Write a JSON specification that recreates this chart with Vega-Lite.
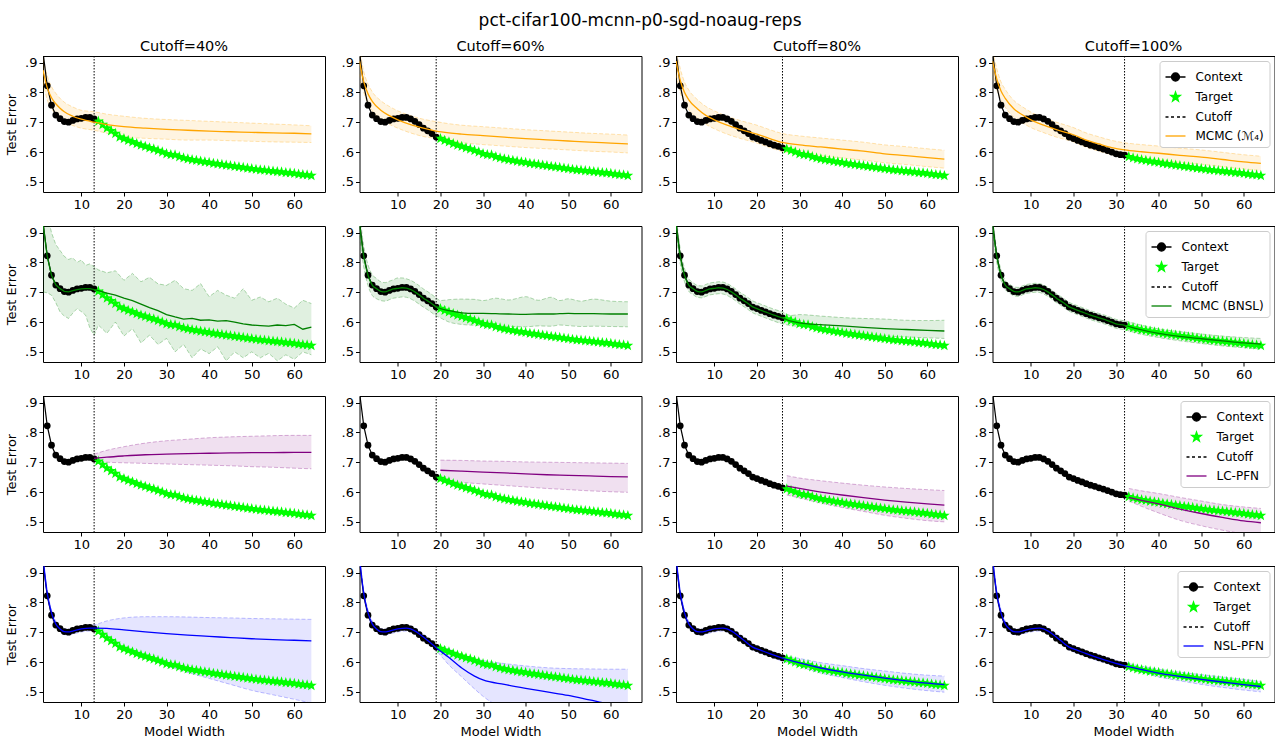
{
"$schema":"https://vega.github.io/schema/vega-lite/v6.json",
"padding":{"left":5,"top":11,"right":0,"bottom":0},
"title":{"text":"pct-cifar100-mcnn-p0-sgd-noaug-reps","fontSize":17,"offset":9},
"config":{
 "font":"DejaVu Sans",
 "view":{"stroke":"black","strokeWidth":1},
 "axis":{"grid":false,"domain":false,"tickColor":"black","tickSize":4,"labelFont":"DejaVu Sans","labelFontSize":13,"labelColor":"black","labelOverlap":false,"titleFont":"DejaVu Sans","titleFontSize":13,"titleFontWeight":"normal","titleColor":"black","labelPadding":2},
 "axisY":{"titlePadding":6,"labelOverlap":false},
 "title":{"font":"DejaVu Sans","fontSize":14.5,"fontWeight":"normal","color":"black","anchor":"middle","offset":1},
 "legend":{"labelFont":"DejaVu Sans","labelFontSize":12,"labelColor":"black","symbolSize":400,"symbolStrokeWidth":1.3,"strokeColor":"#cccccc","fillColor":"white","padding":5,"cornerRadius":3,"offset":5,"rowPadding":2,"labelOffset":9}
},
"datasets":{
"curve":[
{"x":1,"y":0.935},{"x":2,"y":0.822},{"x":3,"y":0.757},{"x":4,"y":0.724},{"x":5,"y":0.712},{"x":6,"y":0.702},{"x":7,"y":0.700},{"x":8,"y":0.706},{"x":9,"y":0.711},{"x":10,"y":0.713},{"x":11,"y":0.716},{"x":12,"y":0.716},{"x":13,"y":0.711},{"x":14,"y":0.703},{"x":15,"y":0.692},{"x":16,"y":0.680},{"x":17,"y":0.671},{"x":18,"y":0.662},{"x":19,"y":0.650},{"x":20,"y":0.645},{"x":21,"y":0.639},{"x":22,"y":0.634},{"x":23,"y":0.628},{"x":24,"y":0.623},{"x":25,"y":0.619},{"x":26,"y":0.614},{"x":27,"y":0.610},{"x":28,"y":0.605},{"x":29,"y":0.600},{"x":30,"y":0.594},{"x":31,"y":0.591},{"x":32,"y":0.590},{"x":33,"y":0.584},{"x":34,"y":0.580},{"x":35,"y":0.577},{"x":36,"y":0.574},{"x":37,"y":0.572},{"x":38,"y":0.569},{"x":39,"y":0.567},{"x":40,"y":0.565},{"x":41,"y":0.562},{"x":42,"y":0.560},{"x":43,"y":0.558},{"x":44,"y":0.556},{"x":45,"y":0.554},{"x":46,"y":0.552},{"x":47,"y":0.550},{"x":48,"y":0.548},{"x":49,"y":0.546},{"x":50,"y":0.544},{"x":51,"y":0.542},{"x":52,"y":0.540},{"x":53,"y":0.539},{"x":54,"y":0.537},{"x":55,"y":0.536},{"x":56,"y":0.534},{"x":57,"y":0.533},{"x":58,"y":0.531},{"x":59,"y":0.530},{"x":60,"y":0.528},{"x":61,"y":0.526},{"x":62,"y":0.524},{"x":63,"y":0.523},{"x":64,"y":0.521}
],
"pred":[
{"m":"A","c":40,"x":1,"y":0.875,"lo":0.835,"hi":0.915},{"m":"A","c":40,"x":2,"y":0.815,"lo":0.775,"hi":0.855},{"m":"A","c":40,"x":3,"y":0.782,"lo":0.745,"hi":0.819},{"m":"A","c":40,"x":4,"y":0.762,"lo":0.727,"hi":0.797},{"m":"A","c":40,"x":5,"y":0.747,"lo":0.714,"hi":0.78},{"m":"A","c":40,"x":6,"y":0.735,"lo":0.703,"hi":0.767},{"m":"A","c":40,"x":8,"y":0.72,"lo":0.689,"hi":0.751},{"m":"A","c":40,"x":10,"y":0.71,"lo":0.68,"hi":0.74},{"m":"A","c":40,"x":13,"y":0.7,"lo":0.673,"hi":0.735},{"m":"A","c":40,"x":16,"y":0.692,"lo":0.663,"hi":0.727},{"m":"A","c":40,"x":20,"y":0.685,"lo":0.65,"hi":0.72},{"m":"A","c":40,"x":25,"y":0.68,"lo":0.646,"hi":0.713},{"m":"A","c":40,"x":30,"y":0.676,"lo":0.643,"hi":0.709},{"m":"A","c":40,"x":35,"y":0.673,"lo":0.64,"hi":0.706},{"m":"A","c":40,"x":40,"y":0.67,"lo":0.64,"hi":0.703},{"m":"A","c":40,"x":45,"y":0.668,"lo":0.638,"hi":0.7},{"m":"A","c":40,"x":50,"y":0.666,"lo":0.636,"hi":0.697},{"m":"A","c":40,"x":55,"y":0.664,"lo":0.634,"hi":0.694},{"m":"A","c":40,"x":60,"y":0.663,"lo":0.633,"hi":0.691},{"m":"A","c":40,"x":64,"y":0.661,"lo":0.632,"hi":0.688},
{"m":"A","c":60,"x":1,"y":0.905,"lo":0.86,"hi":0.95},{"m":"A","c":60,"x":2,"y":0.835,"lo":0.8,"hi":0.87},{"m":"A","c":60,"x":3,"y":0.795,"lo":0.762,"hi":0.828},{"m":"A","c":60,"x":4,"y":0.77,"lo":0.738,"hi":0.802},{"m":"A","c":60,"x":6,"y":0.74,"lo":0.71,"hi":0.772},{"m":"A","c":60,"x":8,"y":0.722,"lo":0.693,"hi":0.753},{"m":"A","c":60,"x":10,"y":0.708,"lo":0.68,"hi":0.738},{"m":"A","c":60,"x":13,"y":0.692,"lo":0.664,"hi":0.722},{"m":"A","c":60,"x":16,"y":0.68,"lo":0.652,"hi":0.71},{"m":"A","c":60,"x":19,"y":0.67,"lo":0.645,"hi":0.702},{"m":"A","c":60,"x":22,"y":0.664,"lo":0.637,"hi":0.695},{"m":"A","c":60,"x":25,"y":0.66,"lo":0.631,"hi":0.69},{"m":"A","c":60,"x":30,"y":0.655,"lo":0.625,"hi":0.685},{"m":"A","c":60,"x":35,"y":0.65,"lo":0.62,"hi":0.68},{"m":"A","c":60,"x":40,"y":0.645,"lo":0.615,"hi":0.675},{"m":"A","c":60,"x":45,"y":0.641,"lo":0.611,"hi":0.671},{"m":"A","c":60,"x":50,"y":0.637,"lo":0.607,"hi":0.667},{"m":"A","c":60,"x":55,"y":0.633,"lo":0.603,"hi":0.663},{"m":"A","c":60,"x":60,"y":0.63,"lo":0.6,"hi":0.66},{"m":"A","c":60,"x":64,"y":0.627,"lo":0.597,"hi":0.657},
{"m":"A","c":80,"x":1,"y":0.905,"lo":0.86,"hi":0.95},{"m":"A","c":80,"x":2,"y":0.84,"lo":0.8,"hi":0.88},{"m":"A","c":80,"x":3,"y":0.8,"lo":0.765,"hi":0.835},{"m":"A","c":80,"x":4,"y":0.775,"lo":0.742,"hi":0.808},{"m":"A","c":80,"x":6,"y":0.745,"lo":0.714,"hi":0.776},{"m":"A","c":80,"x":8,"y":0.723,"lo":0.693,"hi":0.753},{"m":"A","c":80,"x":10,"y":0.708,"lo":0.678,"hi":0.738},{"m":"A","c":80,"x":13,"y":0.69,"lo":0.66,"hi":0.72},{"m":"A","c":80,"x":16,"y":0.676,"lo":0.646,"hi":0.706},{"m":"A","c":80,"x":20,"y":0.66,"lo":0.63,"hi":0.69},{"m":"A","c":80,"x":23,"y":0.645,"lo":0.615,"hi":0.675},{"m":"A","c":80,"x":26,"y":0.632,"lo":0.602,"hi":0.662},{"m":"A","c":80,"x":30,"y":0.624,"lo":0.594,"hi":0.654},{"m":"A","c":80,"x":35,"y":0.617,"lo":0.587,"hi":0.647},{"m":"A","c":80,"x":40,"y":0.61,"lo":0.58,"hi":0.64},{"m":"A","c":80,"x":45,"y":0.603,"lo":0.573,"hi":0.633},{"m":"A","c":80,"x":50,"y":0.594,"lo":0.564,"hi":0.624},{"m":"A","c":80,"x":55,"y":0.588,"lo":0.558,"hi":0.618},{"m":"A","c":80,"x":60,"y":0.581,"lo":0.551,"hi":0.611},{"m":"A","c":80,"x":64,"y":0.576,"lo":0.546,"hi":0.606},
{"m":"A","c":100,"x":1,"y":0.905,"lo":0.87,"hi":0.94},{"m":"A","c":100,"x":2,"y":0.845,"lo":0.81,"hi":0.88},{"m":"A","c":100,"x":3,"y":0.805,"lo":0.775,"hi":0.835},{"m":"A","c":100,"x":4,"y":0.78,"lo":0.75,"hi":0.81},{"m":"A","c":100,"x":6,"y":0.745,"lo":0.717,"hi":0.773},{"m":"A","c":100,"x":8,"y":0.725,"lo":0.698,"hi":0.752},{"m":"A","c":100,"x":10,"y":0.708,"lo":0.682,"hi":0.734},{"m":"A","c":100,"x":13,"y":0.69,"lo":0.665,"hi":0.715},{"m":"A","c":100,"x":16,"y":0.675,"lo":0.65,"hi":0.7},{"m":"A","c":100,"x":20,"y":0.658,"lo":0.634,"hi":0.682},{"m":"A","c":100,"x":23,"y":0.64,"lo":0.616,"hi":0.664},{"m":"A","c":100,"x":26,"y":0.627,"lo":0.603,"hi":0.651},{"m":"A","c":100,"x":29,"y":0.615,"lo":0.591,"hi":0.639},{"m":"A","c":100,"x":32,"y":0.607,"lo":0.583,"hi":0.631},{"m":"A","c":100,"x":36,"y":0.601,"lo":0.577,"hi":0.625},{"m":"A","c":100,"x":40,"y":0.596,"lo":0.572,"hi":0.62},{"m":"A","c":100,"x":45,"y":0.589,"lo":0.565,"hi":0.613},{"m":"A","c":100,"x":50,"y":0.583,"lo":0.559,"hi":0.607},{"m":"A","c":100,"x":55,"y":0.575,"lo":0.551,"hi":0.599},{"m":"A","c":100,"x":60,"y":0.567,"lo":0.543,"hi":0.591},{"m":"A","c":100,"x":64,"y":0.562,"lo":0.538,"hi":0.586},
{"m":"B","c":40,"x":1,"y":0.93,"lo":0.701,"hi":0.99},{"m":"B","c":40,"x":2,"y":0.82,"lo":0.698,"hi":0.96},{"m":"B","c":40,"x":3,"y":0.757,"lo":0.69,"hi":0.9},{"m":"B","c":40,"x":4,"y":0.725,"lo":0.665,"hi":0.86},{"m":"B","c":40,"x":5,"y":0.712,"lo":0.634,"hi":0.84},{"m":"B","c":40,"x":6,"y":0.703,"lo":0.62,"hi":0.82},{"m":"B","c":40,"x":7,"y":0.701,"lo":0.612,"hi":0.81},{"m":"B","c":40,"x":8,"y":0.705,"lo":0.63,"hi":0.815},{"m":"B","c":40,"x":9,"y":0.709,"lo":0.645,"hi":0.8},{"m":"B","c":40,"x":10,"y":0.711,"lo":0.635,"hi":0.808},{"m":"B","c":40,"x":11,"y":0.712,"lo":0.623,"hi":0.79},{"m":"B","c":40,"x":12,"y":0.712,"lo":0.58,"hi":0.795},{"m":"B","c":40,"x":13,"y":0.709,"lo":0.556,"hi":0.785},{"m":"B","c":40,"x":14,"y":0.705,"lo":0.59,"hi":0.775},{"m":"B","c":40,"x":16,"y":0.697,"lo":0.562,"hi":0.765},{"m":"B","c":40,"x":18,"y":0.69,"lo":0.6,"hi":0.772},{"m":"B","c":40,"x":20,"y":0.68,"lo":0.553,"hi":0.74},{"m":"B","c":40,"x":22,"y":0.672,"lo":0.578,"hi":0.763},{"m":"B","c":40,"x":24,"y":0.66,"lo":0.53,"hi":0.735},{"m":"B","c":40,"x":26,"y":0.648,"lo":0.556,"hi":0.75},{"m":"B","c":40,"x":28,"y":0.638,"lo":0.525,"hi":0.728},{"m":"B","c":40,"x":30,"y":0.625,"lo":0.545,"hi":0.723},{"m":"B","c":40,"x":32,"y":0.617,"lo":0.5,"hi":0.74},{"m":"B","c":40,"x":34,"y":0.61,"lo":0.525,"hi":0.712},{"m":"B","c":40,"x":36,"y":0.612,"lo":0.48,"hi":0.706},{"m":"B","c":40,"x":38,"y":0.606,"lo":0.51,"hi":0.729},{"m":"B","c":40,"x":40,"y":0.607,"lo":0.494,"hi":0.685},{"m":"B","c":40,"x":42,"y":0.603,"lo":0.517,"hi":0.706},{"m":"B","c":40,"x":44,"y":0.605,"lo":0.47,"hi":0.69},{"m":"B","c":40,"x":46,"y":0.6,"lo":0.5,"hi":0.68},{"m":"B","c":40,"x":48,"y":0.594,"lo":0.48,"hi":0.712},{"m":"B","c":40,"x":50,"y":0.59,"lo":0.5,"hi":0.673},{"m":"B","c":40,"x":52,"y":0.588,"lo":0.48,"hi":0.684},{"m":"B","c":40,"x":54,"y":0.586,"lo":0.495,"hi":0.668},{"m":"B","c":40,"x":56,"y":0.59,"lo":0.47,"hi":0.68},{"m":"B","c":40,"x":58,"y":0.588,"lo":0.49,"hi":0.66},{"m":"B","c":40,"x":60,"y":0.592,"lo":0.475,"hi":0.647},{"m":"B","c":40,"x":62,"y":0.576,"lo":0.5,"hi":0.673},{"m":"B","c":40,"x":64,"y":0.583,"lo":0.49,"hi":0.662},
{"m":"B","c":60,"x":1,"y":0.93,"lo":0.89,"hi":0.97},{"m":"B","c":60,"x":2,"y":0.82,"lo":0.785,"hi":0.855},{"m":"B","c":60,"x":3,"y":0.757,"lo":0.722,"hi":0.792},{"m":"B","c":60,"x":4,"y":0.724,"lo":0.689,"hi":0.759},{"m":"B","c":60,"x":5,"y":0.712,"lo":0.678,"hi":0.746},{"m":"B","c":60,"x":6,"y":0.703,"lo":0.672,"hi":0.735},{"m":"B","c":60,"x":7,"y":0.701,"lo":0.67,"hi":0.732},{"m":"B","c":60,"x":8,"y":0.706,"lo":0.675,"hi":0.737},{"m":"B","c":60,"x":9,"y":0.711,"lo":0.68,"hi":0.742},{"m":"B","c":60,"x":10,"y":0.713,"lo":0.682,"hi":0.748},{"m":"B","c":60,"x":11,"y":0.715,"lo":0.684,"hi":0.748},{"m":"B","c":60,"x":12,"y":0.714,"lo":0.683,"hi":0.745},{"m":"B","c":60,"x":13,"y":0.709,"lo":0.678,"hi":0.74},{"m":"B","c":60,"x":14,"y":0.701,"lo":0.67,"hi":0.732},{"m":"B","c":60,"x":15,"y":0.691,"lo":0.66,"hi":0.722},{"m":"B","c":60,"x":16,"y":0.68,"lo":0.65,"hi":0.711},{"m":"B","c":60,"x":17,"y":0.671,"lo":0.641,"hi":0.702},{"m":"B","c":60,"x":18,"y":0.661,"lo":0.631,"hi":0.692},{"m":"B","c":60,"x":19,"y":0.651,"lo":0.621,"hi":0.681},{"m":"B","c":60,"x":20,"y":0.645,"lo":0.614,"hi":0.672},{"m":"B","c":60,"x":22,"y":0.638,"lo":0.6,"hi":0.675},{"m":"B","c":60,"x":25,"y":0.631,"lo":0.592,"hi":0.677},{"m":"B","c":60,"x":28,"y":0.629,"lo":0.589,"hi":0.676},{"m":"B","c":60,"x":30,"y":0.629,"lo":0.588,"hi":0.672},{"m":"B","c":60,"x":33,"y":0.628,"lo":0.586,"hi":0.68},{"m":"B","c":60,"x":36,"y":0.627,"lo":0.585,"hi":0.674},{"m":"B","c":60,"x":40,"y":0.626,"lo":0.584,"hi":0.685},{"m":"B","c":60,"x":43,"y":0.627,"lo":0.587,"hi":0.673},{"m":"B","c":60,"x":46,"y":0.627,"lo":0.586,"hi":0.683},{"m":"B","c":60,"x":48,"y":0.628,"lo":0.59,"hi":0.672},{"m":"B","c":60,"x":50,"y":0.629,"lo":0.588,"hi":0.678},{"m":"B","c":60,"x":53,"y":0.628,"lo":0.585,"hi":0.67},{"m":"B","c":60,"x":56,"y":0.628,"lo":0.586,"hi":0.677},{"m":"B","c":60,"x":60,"y":0.627,"lo":0.585,"hi":0.67},{"m":"B","c":60,"x":64,"y":0.627,"lo":0.584,"hi":0.668},
{"m":"B","c":80,"x":1,"y":0.93,"lo":0.9,"hi":0.96},{"m":"B","c":80,"x":2,"y":0.82,"lo":0.795,"hi":0.845},{"m":"B","c":80,"x":3,"y":0.757,"lo":0.735,"hi":0.78},{"m":"B","c":80,"x":4,"y":0.724,"lo":0.703,"hi":0.745},{"m":"B","c":80,"x":5,"y":0.712,"lo":0.692,"hi":0.732},{"m":"B","c":80,"x":6,"y":0.703,"lo":0.683,"hi":0.723},{"m":"B","c":80,"x":7,"y":0.701,"lo":0.681,"hi":0.721},{"m":"B","c":80,"x":8,"y":0.706,"lo":0.686,"hi":0.726},{"m":"B","c":80,"x":9,"y":0.711,"lo":0.691,"hi":0.731},{"m":"B","c":80,"x":10,"y":0.713,"lo":0.693,"hi":0.733},{"m":"B","c":80,"x":11,"y":0.715,"lo":0.695,"hi":0.735},{"m":"B","c":80,"x":12,"y":0.714,"lo":0.694,"hi":0.734},{"m":"B","c":80,"x":13,"y":0.709,"lo":0.689,"hi":0.729},{"m":"B","c":80,"x":14,"y":0.701,"lo":0.681,"hi":0.721},{"m":"B","c":80,"x":15,"y":0.691,"lo":0.671,"hi":0.711},{"m":"B","c":80,"x":16,"y":0.68,"lo":0.66,"hi":0.7},{"m":"B","c":80,"x":17,"y":0.671,"lo":0.651,"hi":0.691},{"m":"B","c":80,"x":18,"y":0.661,"lo":0.641,"hi":0.681},{"m":"B","c":80,"x":19,"y":0.651,"lo":0.631,"hi":0.671},{"m":"B","c":80,"x":20,"y":0.645,"lo":0.625,"hi":0.665},{"m":"B","c":80,"x":22,"y":0.634,"lo":0.614,"hi":0.654},{"m":"B","c":80,"x":24,"y":0.623,"lo":0.603,"hi":0.643},{"m":"B","c":80,"x":26,"y":0.614,"lo":0.594,"hi":0.634},{"m":"B","c":80,"x":28,"y":0.603,"lo":0.588,"hi":0.622},{"m":"B","c":80,"x":30,"y":0.597,"lo":0.585,"hi":0.625},{"m":"B","c":80,"x":35,"y":0.591,"lo":0.575,"hi":0.62},{"m":"B","c":80,"x":40,"y":0.587,"lo":0.567,"hi":0.615},{"m":"B","c":80,"x":45,"y":0.582,"lo":0.56,"hi":0.612},{"m":"B","c":80,"x":50,"y":0.578,"lo":0.553,"hi":0.61},{"m":"B","c":80,"x":55,"y":0.575,"lo":0.55,"hi":0.606},{"m":"B","c":80,"x":60,"y":0.572,"lo":0.547,"hi":0.605},{"m":"B","c":80,"x":64,"y":0.57,"lo":0.545,"hi":0.606},
{"m":"B","c":100,"x":1,"y":0.93,"lo":0.905,"hi":0.955},{"m":"B","c":100,"x":2,"y":0.82,"lo":0.8,"hi":0.84},{"m":"B","c":100,"x":3,"y":0.757,"lo":0.74,"hi":0.775},{"m":"B","c":100,"x":4,"y":0.724,"lo":0.709,"hi":0.739},{"m":"B","c":100,"x":5,"y":0.712,"lo":0.697,"hi":0.727},{"m":"B","c":100,"x":6,"y":0.703,"lo":0.688,"hi":0.718},{"m":"B","c":100,"x":7,"y":0.701,"lo":0.686,"hi":0.716},{"m":"B","c":100,"x":8,"y":0.706,"lo":0.691,"hi":0.721},{"m":"B","c":100,"x":9,"y":0.711,"lo":0.696,"hi":0.726},{"m":"B","c":100,"x":10,"y":0.713,"lo":0.698,"hi":0.728},{"m":"B","c":100,"x":11,"y":0.715,"lo":0.7,"hi":0.73},{"m":"B","c":100,"x":12,"y":0.714,"lo":0.699,"hi":0.729},{"m":"B","c":100,"x":13,"y":0.709,"lo":0.694,"hi":0.724},{"m":"B","c":100,"x":14,"y":0.701,"lo":0.686,"hi":0.716},{"m":"B","c":100,"x":15,"y":0.691,"lo":0.676,"hi":0.706},{"m":"B","c":100,"x":16,"y":0.68,"lo":0.665,"hi":0.695},{"m":"B","c":100,"x":17,"y":0.671,"lo":0.656,"hi":0.686},{"m":"B","c":100,"x":18,"y":0.661,"lo":0.646,"hi":0.676},{"m":"B","c":100,"x":19,"y":0.651,"lo":0.636,"hi":0.666},{"m":"B","c":100,"x":20,"y":0.645,"lo":0.63,"hi":0.66},{"m":"B","c":100,"x":22,"y":0.634,"lo":0.619,"hi":0.649},{"m":"B","c":100,"x":24,"y":0.623,"lo":0.608,"hi":0.638},{"m":"B","c":100,"x":26,"y":0.614,"lo":0.599,"hi":0.629},{"m":"B","c":100,"x":28,"y":0.605,"lo":0.59,"hi":0.62},{"m":"B","c":100,"x":30,"y":0.594,"lo":0.579,"hi":0.609},{"m":"B","c":100,"x":32,"y":0.589,"lo":0.574,"hi":0.604},{"m":"B","c":100,"x":35,"y":0.577,"lo":0.562,"hi":0.593},{"m":"B","c":100,"x":40,"y":0.562,"lo":0.548,"hi":0.577},{"m":"B","c":100,"x":45,"y":0.552,"lo":0.537,"hi":0.568},{"m":"B","c":100,"x":50,"y":0.544,"lo":0.528,"hi":0.56},{"m":"B","c":100,"x":55,"y":0.537,"lo":0.52,"hi":0.553},{"m":"B","c":100,"x":60,"y":0.53,"lo":0.514,"hi":0.548},{"m":"B","c":100,"x":64,"y":0.526,"lo":0.51,"hi":0.545},
{"m":"L","c":40,"x":13,"y":0.713,"lo":0.703,"hi":0.727},{"m":"L","c":40,"x":16,"y":0.717,"lo":0.7,"hi":0.74},{"m":"L","c":40,"x":20,"y":0.721,"lo":0.698,"hi":0.752},{"m":"L","c":40,"x":25,"y":0.725,"lo":0.696,"hi":0.764},{"m":"L","c":40,"x":30,"y":0.727,"lo":0.694,"hi":0.772},{"m":"L","c":40,"x":35,"y":0.729,"lo":0.692,"hi":0.777},{"m":"L","c":40,"x":40,"y":0.73,"lo":0.69,"hi":0.782},{"m":"L","c":40,"x":45,"y":0.731,"lo":0.688,"hi":0.785},{"m":"L","c":40,"x":50,"y":0.732,"lo":0.685,"hi":0.787},{"m":"L","c":40,"x":55,"y":0.732,"lo":0.683,"hi":0.789},{"m":"L","c":40,"x":60,"y":0.733,"lo":0.68,"hi":0.79},{"m":"L","c":40,"x":64,"y":0.733,"lo":0.678,"hi":0.79},
{"m":"L","c":60,"x":20,"y":0.673,"lo":0.636,"hi":0.707},{"m":"L","c":60,"x":25,"y":0.67,"lo":0.632,"hi":0.706},{"m":"L","c":60,"x":30,"y":0.667,"lo":0.627,"hi":0.704},{"m":"L","c":60,"x":35,"y":0.664,"lo":0.622,"hi":0.703},{"m":"L","c":60,"x":40,"y":0.661,"lo":0.617,"hi":0.701},{"m":"L","c":60,"x":45,"y":0.658,"lo":0.612,"hi":0.7},{"m":"L","c":60,"x":50,"y":0.656,"lo":0.608,"hi":0.699},{"m":"L","c":60,"x":55,"y":0.654,"lo":0.604,"hi":0.698},{"m":"L","c":60,"x":60,"y":0.652,"lo":0.601,"hi":0.697},{"m":"L","c":60,"x":64,"y":0.651,"lo":0.599,"hi":0.696},
{"m":"L","c":80,"x":27,"y":0.62,"lo":0.59,"hi":0.655},{"m":"L","c":80,"x":30,"y":0.612,"lo":0.58,"hi":0.647},{"m":"L","c":80,"x":35,"y":0.6,"lo":0.563,"hi":0.638},{"m":"L","c":80,"x":40,"y":0.59,"lo":0.548,"hi":0.63},{"m":"L","c":80,"x":45,"y":0.581,"lo":0.535,"hi":0.623},{"m":"L","c":80,"x":50,"y":0.573,"lo":0.522,"hi":0.617},{"m":"L","c":80,"x":55,"y":0.566,"lo":0.512,"hi":0.612},{"m":"L","c":80,"x":60,"y":0.56,"lo":0.504,"hi":0.608},{"m":"L","c":80,"x":64,"y":0.556,"lo":0.5,"hi":0.605},
{"m":"L","c":100,"x":33,"y":0.582,"lo":0.57,"hi":0.612},{"m":"L","c":100,"x":36,"y":0.572,"lo":0.552,"hi":0.604},{"m":"L","c":100,"x":40,"y":0.56,"lo":0.53,"hi":0.595},{"m":"L","c":100,"x":45,"y":0.543,"lo":0.505,"hi":0.582},{"m":"L","c":100,"x":50,"y":0.528,"lo":0.487,"hi":0.57},{"m":"L","c":100,"x":55,"y":0.515,"lo":0.472,"hi":0.558},{"m":"L","c":100,"x":60,"y":0.503,"lo":0.46,"hi":0.55},{"m":"L","c":100,"x":64,"y":0.497,"lo":0.455,"hi":0.545},
{"m":"N","c":40,"x":1,"y":0.95,"lo":0.94,"hi":0.96},{"m":"N","c":40,"x":2,"y":0.83,"lo":0.82,"hi":0.84},{"m":"N","c":40,"x":3,"y":0.765,"lo":0.755,"hi":0.775},{"m":"N","c":40,"x":4,"y":0.728,"lo":0.718,"hi":0.738},{"m":"N","c":40,"x":5,"y":0.711,"lo":0.701,"hi":0.721},{"m":"N","c":40,"x":6,"y":0.702,"lo":0.692,"hi":0.712},{"m":"N","c":40,"x":7,"y":0.701,"lo":0.691,"hi":0.711},{"m":"N","c":40,"x":8,"y":0.704,"lo":0.694,"hi":0.714},{"m":"N","c":40,"x":10,"y":0.711,"lo":0.701,"hi":0.721},{"m":"N","c":40,"x":12,"y":0.714,"lo":0.704,"hi":0.724},{"m":"N","c":40,"x":13,"y":0.714,"lo":0.704,"hi":0.725},{"m":"N","c":40,"x":16,"y":0.713,"lo":0.68,"hi":0.738},{"m":"N","c":40,"x":20,"y":0.708,"lo":0.648,"hi":0.748},{"m":"N","c":40,"x":25,"y":0.701,"lo":0.615,"hi":0.752},{"m":"N","c":40,"x":30,"y":0.695,"lo":0.588,"hi":0.752},{"m":"N","c":40,"x":35,"y":0.69,"lo":0.565,"hi":0.751},{"m":"N","c":40,"x":40,"y":0.686,"lo":0.545,"hi":0.749},{"m":"N","c":40,"x":45,"y":0.682,"lo":0.525,"hi":0.748},{"m":"N","c":40,"x":50,"y":0.678,"lo":0.505,"hi":0.746},{"m":"N","c":40,"x":55,"y":0.675,"lo":0.49,"hi":0.745},{"m":"N","c":40,"x":60,"y":0.673,"lo":0.475,"hi":0.744},{"m":"N","c":40,"x":64,"y":0.671,"lo":0.462,"hi":0.743},
{"m":"N","c":60,"x":1,"y":0.95,"lo":0.94,"hi":0.96},{"m":"N","c":60,"x":2,"y":0.83,"lo":0.82,"hi":0.84},{"m":"N","c":60,"x":3,"y":0.765,"lo":0.755,"hi":0.775},{"m":"N","c":60,"x":4,"y":0.728,"lo":0.718,"hi":0.738},{"m":"N","c":60,"x":5,"y":0.711,"lo":0.701,"hi":0.721},{"m":"N","c":60,"x":6,"y":0.702,"lo":0.692,"hi":0.712},{"m":"N","c":60,"x":7,"y":0.701,"lo":0.691,"hi":0.711},{"m":"N","c":60,"x":8,"y":0.704,"lo":0.694,"hi":0.714},{"m":"N","c":60,"x":10,"y":0.711,"lo":0.701,"hi":0.721},{"m":"N","c":60,"x":12,"y":0.714,"lo":0.704,"hi":0.724},{"m":"N","c":60,"x":13,"y":0.711,"lo":0.701,"hi":0.721},{"m":"N","c":60,"x":15,"y":0.695,"lo":0.685,"hi":0.705},{"m":"N","c":60,"x":17,"y":0.672,"lo":0.662,"hi":0.682},{"m":"N","c":60,"x":19,"y":0.648,"lo":0.638,"hi":0.658},{"m":"N","c":60,"x":22,"y":0.615,"lo":0.59,"hi":0.643},{"m":"N","c":60,"x":25,"y":0.58,"lo":0.55,"hi":0.625},{"m":"N","c":60,"x":28,"y":0.553,"lo":0.51,"hi":0.612},{"m":"N","c":60,"x":30,"y":0.54,"lo":0.485,"hi":0.605},{"m":"N","c":60,"x":35,"y":0.525,"lo":0.44,"hi":0.595},{"m":"N","c":60,"x":40,"y":0.512,"lo":0.4,"hi":0.587},{"m":"N","c":60,"x":45,"y":0.5,"lo":0.37,"hi":0.581},{"m":"N","c":60,"x":50,"y":0.488,"lo":0.34,"hi":0.578},{"m":"N","c":60,"x":55,"y":0.473,"lo":0.32,"hi":0.577},{"m":"N","c":60,"x":60,"y":0.458,"lo":0.3,"hi":0.576},{"m":"N","c":60,"x":64,"y":0.447,"lo":0.29,"hi":0.576},
{"m":"N","c":80,"x":1,"y":0.95,"lo":0.94,"hi":0.96},{"m":"N","c":80,"x":2,"y":0.83,"lo":0.82,"hi":0.84},{"m":"N","c":80,"x":3,"y":0.765,"lo":0.755,"hi":0.775},{"m":"N","c":80,"x":4,"y":0.728,"lo":0.718,"hi":0.738},{"m":"N","c":80,"x":5,"y":0.711,"lo":0.701,"hi":0.721},{"m":"N","c":80,"x":6,"y":0.702,"lo":0.692,"hi":0.712},{"m":"N","c":80,"x":7,"y":0.701,"lo":0.691,"hi":0.711},{"m":"N","c":80,"x":8,"y":0.704,"lo":0.694,"hi":0.714},{"m":"N","c":80,"x":10,"y":0.711,"lo":0.701,"hi":0.721},{"m":"N","c":80,"x":12,"y":0.714,"lo":0.704,"hi":0.724},{"m":"N","c":80,"x":13,"y":0.711,"lo":0.701,"hi":0.721},{"m":"N","c":80,"x":15,"y":0.695,"lo":0.685,"hi":0.705},{"m":"N","c":80,"x":17,"y":0.672,"lo":0.662,"hi":0.682},{"m":"N","c":80,"x":19,"y":0.65,"lo":0.64,"hi":0.66},{"m":"N","c":80,"x":21,"y":0.639,"lo":0.629,"hi":0.649},{"m":"N","c":80,"x":23,"y":0.628,"lo":0.618,"hi":0.638},{"m":"N","c":80,"x":26,"y":0.613,"lo":0.603,"hi":0.623},{"m":"N","c":80,"x":30,"y":0.597,"lo":0.585,"hi":0.612},{"m":"N","c":80,"x":35,"y":0.58,"lo":0.563,"hi":0.598},{"m":"N","c":80,"x":40,"y":0.567,"lo":0.548,"hi":0.588},{"m":"N","c":80,"x":45,"y":0.556,"lo":0.534,"hi":0.578},{"m":"N","c":80,"x":50,"y":0.546,"lo":0.522,"hi":0.57},{"m":"N","c":80,"x":55,"y":0.537,"lo":0.512,"hi":0.562},{"m":"N","c":80,"x":60,"y":0.529,"lo":0.504,"hi":0.556},{"m":"N","c":80,"x":64,"y":0.524,"lo":0.499,"hi":0.553},
{"m":"N","c":100,"x":1,"y":0.95,"lo":0.94,"hi":0.96},{"m":"N","c":100,"x":2,"y":0.83,"lo":0.82,"hi":0.84},{"m":"N","c":100,"x":3,"y":0.765,"lo":0.755,"hi":0.775},{"m":"N","c":100,"x":4,"y":0.728,"lo":0.718,"hi":0.738},{"m":"N","c":100,"x":5,"y":0.711,"lo":0.701,"hi":0.721},{"m":"N","c":100,"x":6,"y":0.702,"lo":0.692,"hi":0.712},{"m":"N","c":100,"x":7,"y":0.701,"lo":0.691,"hi":0.711},{"m":"N","c":100,"x":8,"y":0.704,"lo":0.694,"hi":0.714},{"m":"N","c":100,"x":10,"y":0.711,"lo":0.701,"hi":0.721},{"m":"N","c":100,"x":12,"y":0.714,"lo":0.704,"hi":0.724},{"m":"N","c":100,"x":13,"y":0.711,"lo":0.701,"hi":0.721},{"m":"N","c":100,"x":15,"y":0.695,"lo":0.685,"hi":0.705},{"m":"N","c":100,"x":17,"y":0.672,"lo":0.662,"hi":0.682},{"m":"N","c":100,"x":19,"y":0.65,"lo":0.64,"hi":0.66},{"m":"N","c":100,"x":21,"y":0.639,"lo":0.629,"hi":0.649},{"m":"N","c":100,"x":23,"y":0.628,"lo":0.618,"hi":0.638},{"m":"N","c":100,"x":26,"y":0.613,"lo":0.603,"hi":0.623},{"m":"N","c":100,"x":29,"y":0.6,"lo":0.59,"hi":0.61},{"m":"N","c":100,"x":32,"y":0.588,"lo":0.578,"hi":0.598},{"m":"N","c":100,"x":36,"y":0.575,"lo":0.565,"hi":0.586},{"m":"N","c":100,"x":40,"y":0.563,"lo":0.55,"hi":0.576},{"m":"N","c":100,"x":45,"y":0.552,"lo":0.537,"hi":0.566},{"m":"N","c":100,"x":50,"y":0.542,"lo":0.525,"hi":0.558},{"m":"N","c":100,"x":55,"y":0.533,"lo":0.515,"hi":0.55},{"m":"N","c":100,"x":60,"y":0.524,"lo":0.506,"hi":0.542},{"m":"N","c":100,"x":64,"y":0.518,"lo":0.5,"hi":0.535}
]
},
"spacing":13,
"resolve":{"scale":{"shape":"independent","fill":"independent","stroke":"independent"},"legend":{"shape":"independent","fill":"independent","stroke":"independent"}},
"vconcat":[
{"hconcat":[
{"width":282,"height":136,"title":"Cutoff=40%","encoding":{"x":{"field":"x","type":"quantitative","scale":{"domain":[1,67.2],"nice":false,"zero":false},"axis":{"values":[10,20,30,40,50,60],"title":null}}},"layer":[
{"data":{"name":"pred"},"transform":[{"filter":"datum.m=='A'&&datum.c==40"}],"layer":[
{"mark":{"type":"area","color":"orange","opacity":0.12,"interpolate":"monotone","clip":true},"encoding":{"y":{"field":"lo","type":"quantitative","scale":{"domain":[0.466,0.922],"nice":false,"zero":false}},"y2":{"field":"hi"}}},
{"mark":{"type":"line","color":"orange","opacity":0.3,"strokeWidth":1,"strokeDash":[4,2],"interpolate":"monotone","clip":true},"encoding":{"y":{"field":"lo","type":"quantitative","scale":{"domain":[0.466,0.922],"nice":false,"zero":false}}}},
{"mark":{"type":"line","color":"orange","opacity":0.3,"strokeWidth":1,"strokeDash":[4,2],"interpolate":"monotone","clip":true},"encoding":{"y":{"field":"hi","type":"quantitative","scale":{"domain":[0.466,0.922],"nice":false,"zero":false}}}}]},
{"data":{"name":"curve"},"transform":[{"filter":"datum.x<=13"}],"mark":{"type":"line","color":"black","strokeWidth":1.2,"clip":true,"point":{"filled":true,"size":45,"color":"black"}},"encoding":{"y":{"field":"y","type":"quantitative","scale":{"domain":[0.466,0.922],"nice":false,"zero":false},"axis":{"values":[0.5,0.6,0.7,0.8,0.9],"tickCount":10,"format":".1f","labelOverlap":false,"labelExpr":"replace(datum.label,'0.','.')","title":"Test Error"}}}},
{"data":{"name":"curve"},"transform":[{"filter":"datum.x>13"}],"mark":{"type":"point","shape":"M0,-1L0.235,-0.324L0.951,-0.309L0.38,0.124L0.588,0.809L0,0.4L-0.588,0.809L-0.38,0.124L-0.951,-0.309L-0.235,-0.324Z","filled":true,"color":"#00ff00","opacity":1,"size":130,"clip":true},"encoding":{"y":{"field":"y","type":"quantitative","scale":{"domain":[0.466,0.922],"nice":false,"zero":false}}}},
{"data":{"name":"curve"},"transform":[{"filter":"datum.x==13"}],"mark":{"type":"rule","color":"black","strokeWidth":1,"strokeDash":[1.5,1.5]},"encoding":{}},
{"data":{"name":"pred"},"transform":[{"filter":"datum.m=='A'&&datum.c==40"}],"mark":{"type":"line","color":"orange","strokeWidth":1.3,"interpolate":"monotone","clip":true},"encoding":{"y":{"field":"y","type":"quantitative","scale":{"domain":[0.466,0.922],"nice":false,"zero":false}}}}
]},
{"width":282,"height":136,"title":"Cutoff=60%","encoding":{"x":{"field":"x","type":"quantitative","scale":{"domain":[1,67.2],"nice":false,"zero":false},"axis":{"values":[10,20,30,40,50,60],"title":null}}},"layer":[
{"data":{"name":"pred"},"transform":[{"filter":"datum.m=='A'&&datum.c==60"}],"layer":[
{"mark":{"type":"area","color":"orange","opacity":0.12,"interpolate":"monotone","clip":true},"encoding":{"y":{"field":"lo","type":"quantitative","scale":{"domain":[0.466,0.922],"nice":false,"zero":false}},"y2":{"field":"hi"}}},
{"mark":{"type":"line","color":"orange","opacity":0.3,"strokeWidth":1,"strokeDash":[4,2],"interpolate":"monotone","clip":true},"encoding":{"y":{"field":"lo","type":"quantitative","scale":{"domain":[0.466,0.922],"nice":false,"zero":false}}}},
{"mark":{"type":"line","color":"orange","opacity":0.3,"strokeWidth":1,"strokeDash":[4,2],"interpolate":"monotone","clip":true},"encoding":{"y":{"field":"hi","type":"quantitative","scale":{"domain":[0.466,0.922],"nice":false,"zero":false}}}}]},
{"data":{"name":"curve"},"transform":[{"filter":"datum.x<=19"}],"mark":{"type":"line","color":"black","strokeWidth":1.2,"clip":true,"point":{"filled":true,"size":45,"color":"black"}},"encoding":{"y":{"field":"y","type":"quantitative","scale":{"domain":[0.466,0.922],"nice":false,"zero":false},"axis":{"values":[0.5,0.6,0.7,0.8,0.9],"tickCount":10,"format":".1f","labelOverlap":false,"labelExpr":"replace(datum.label,'0.','.')","title":null}}}},
{"data":{"name":"curve"},"transform":[{"filter":"datum.x>19"}],"mark":{"type":"point","shape":"M0,-1L0.235,-0.324L0.951,-0.309L0.38,0.124L0.588,0.809L0,0.4L-0.588,0.809L-0.38,0.124L-0.951,-0.309L-0.235,-0.324Z","filled":true,"color":"#00ff00","opacity":1,"size":130,"clip":true},"encoding":{"y":{"field":"y","type":"quantitative","scale":{"domain":[0.466,0.922],"nice":false,"zero":false}}}},
{"data":{"name":"curve"},"transform":[{"filter":"datum.x==19"}],"mark":{"type":"rule","color":"black","strokeWidth":1,"strokeDash":[1.5,1.5]},"encoding":{}},
{"data":{"name":"pred"},"transform":[{"filter":"datum.m=='A'&&datum.c==60"}],"mark":{"type":"line","color":"orange","strokeWidth":1.3,"interpolate":"monotone","clip":true},"encoding":{"y":{"field":"y","type":"quantitative","scale":{"domain":[0.466,0.922],"nice":false,"zero":false}}}}
]},
{"width":282,"height":136,"title":"Cutoff=80%","encoding":{"x":{"field":"x","type":"quantitative","scale":{"domain":[1,67.2],"nice":false,"zero":false},"axis":{"values":[10,20,30,40,50,60],"title":null}}},"layer":[
{"data":{"name":"pred"},"transform":[{"filter":"datum.m=='A'&&datum.c==80"}],"layer":[
{"mark":{"type":"area","color":"orange","opacity":0.12,"interpolate":"monotone","clip":true},"encoding":{"y":{"field":"lo","type":"quantitative","scale":{"domain":[0.466,0.922],"nice":false,"zero":false}},"y2":{"field":"hi"}}},
{"mark":{"type":"line","color":"orange","opacity":0.3,"strokeWidth":1,"strokeDash":[4,2],"interpolate":"monotone","clip":true},"encoding":{"y":{"field":"lo","type":"quantitative","scale":{"domain":[0.466,0.922],"nice":false,"zero":false}}}},
{"mark":{"type":"line","color":"orange","opacity":0.3,"strokeWidth":1,"strokeDash":[4,2],"interpolate":"monotone","clip":true},"encoding":{"y":{"field":"hi","type":"quantitative","scale":{"domain":[0.466,0.922],"nice":false,"zero":false}}}}]},
{"data":{"name":"curve"},"transform":[{"filter":"datum.x<=26"}],"mark":{"type":"line","color":"black","strokeWidth":1.2,"clip":true,"point":{"filled":true,"size":45,"color":"black"}},"encoding":{"y":{"field":"y","type":"quantitative","scale":{"domain":[0.466,0.922],"nice":false,"zero":false},"axis":{"values":[0.5,0.6,0.7,0.8,0.9],"tickCount":10,"format":".1f","labelOverlap":false,"labelExpr":"replace(datum.label,'0.','.')","title":null}}}},
{"data":{"name":"curve"},"transform":[{"filter":"datum.x>26"}],"mark":{"type":"point","shape":"M0,-1L0.235,-0.324L0.951,-0.309L0.38,0.124L0.588,0.809L0,0.4L-0.588,0.809L-0.38,0.124L-0.951,-0.309L-0.235,-0.324Z","filled":true,"color":"#00ff00","opacity":1,"size":130,"clip":true},"encoding":{"y":{"field":"y","type":"quantitative","scale":{"domain":[0.466,0.922],"nice":false,"zero":false}}}},
{"data":{"name":"curve"},"transform":[{"filter":"datum.x==26"}],"mark":{"type":"rule","color":"black","strokeWidth":1,"strokeDash":[1.5,1.5]},"encoding":{}},
{"data":{"name":"pred"},"transform":[{"filter":"datum.m=='A'&&datum.c==80"}],"mark":{"type":"line","color":"orange","strokeWidth":1.3,"interpolate":"monotone","clip":true},"encoding":{"y":{"field":"y","type":"quantitative","scale":{"domain":[0.466,0.922],"nice":false,"zero":false}}}}
]},
{"width":282,"height":136,"title":"Cutoff=100%","encoding":{"x":{"field":"x","type":"quantitative","scale":{"domain":[1,67.2],"nice":false,"zero":false},"axis":{"values":[10,20,30,40,50,60],"title":null}}},"layer":[
{"data":{"name":"pred"},"transform":[{"filter":"datum.m=='A'&&datum.c==100"}],"layer":[
{"mark":{"type":"area","color":"orange","opacity":0.12,"interpolate":"monotone","clip":true},"encoding":{"y":{"field":"lo","type":"quantitative","scale":{"domain":[0.466,0.922],"nice":false,"zero":false}},"y2":{"field":"hi"}}},
{"mark":{"type":"line","color":"orange","opacity":0.3,"strokeWidth":1,"strokeDash":[4,2],"interpolate":"monotone","clip":true},"encoding":{"y":{"field":"lo","type":"quantitative","scale":{"domain":[0.466,0.922],"nice":false,"zero":false}}}},
{"mark":{"type":"line","color":"orange","opacity":0.3,"strokeWidth":1,"strokeDash":[4,2],"interpolate":"monotone","clip":true},"encoding":{"y":{"field":"hi","type":"quantitative","scale":{"domain":[0.466,0.922],"nice":false,"zero":false}}}}]},
{"data":{"name":"curve"},"transform":[{"filter":"datum.x<=32"}],"mark":{"type":"line","color":"black","strokeWidth":1.2,"clip":true,"point":{"filled":true,"size":45,"color":"black"}},"encoding":{"y":{"field":"y","type":"quantitative","scale":{"domain":[0.466,0.922],"nice":false,"zero":false},"axis":{"values":[0.5,0.6,0.7,0.8,0.9],"tickCount":10,"format":".1f","labelOverlap":false,"labelExpr":"replace(datum.label,'0.','.')","title":null}}}},
{"data":{"name":"curve"},"transform":[{"filter":"datum.x>32"}],"mark":{"type":"point","shape":"M0,-1L0.235,-0.324L0.951,-0.309L0.38,0.124L0.588,0.809L0,0.4L-0.588,0.809L-0.38,0.124L-0.951,-0.309L-0.235,-0.324Z","filled":true,"color":"#00ff00","opacity":1,"size":130,"clip":true},"encoding":{"y":{"field":"y","type":"quantitative","scale":{"domain":[0.466,0.922],"nice":false,"zero":false}}}},
{"data":{"name":"curve"},"transform":[{"filter":"datum.x==32"}],"mark":{"type":"rule","color":"black","strokeWidth":1,"strokeDash":[1.5,1.5]},"encoding":{}},
{"data":{"name":"pred"},"transform":[{"filter":"datum.m=='A'&&datum.c==100"}],"mark":{"type":"line","color":"orange","strokeWidth":1.3,"interpolate":"monotone","clip":true},"encoding":{"y":{"field":"y","type":"quantitative","scale":{"domain":[0.466,0.922],"nice":false,"zero":false}}}},
{"data":{"values":[]},"mark":{"type":"point","filled":true,"opacity":1},"encoding":{
"shape":{"field":"s","type":"nominal","scale":{"domain":["Context","Target","Cutoff","MCMC (ℳ₄)"],"range":["M-1,0L1,0M0.4,0A0.4,0.4,0,1,1,-0.4,0A0.4,0.4,0,1,1,0.4,0Z","M0,-0.5L0.118,-0.162L0.476,-0.155L0.19,0.062L0.294,0.405L0,0.2L-0.294,0.405L-0.19,0.062L-0.476,-0.155L-0.118,-0.162Z","M-1,0L-0.7,0M-0.45,0L-0.15,0M0.15,0L0.45,0M0.7,0L1,0","M-1,0L1,0"]},"legend":{"title":null,"orient":"top-right"}},
"fill":{"field":"s","type":"nominal","scale":{"domain":["Context","Target","Cutoff","MCMC (ℳ₄)"],"range":["black","#00ff00","black","orange"]},"legend":{"title":null,"orient":"top-right"}},
"stroke":{"field":"s","type":"nominal","scale":{"domain":["Context","Target","Cutoff","MCMC (ℳ₄)"],"range":["black","#00ff00","black","orange"]},"legend":{"title":null,"orient":"top-right"}}}}
]}
],"spacing":14.5,"resolve":{"scale":{"shape":"independent","fill":"independent","stroke":"independent"},"legend":{"shape":"independent","fill":"independent","stroke":"independent"}}},
{"hconcat":[
{"width":282,"height":136,"encoding":{"x":{"field":"x","type":"quantitative","scale":{"domain":[1,67.2],"nice":false,"zero":false},"axis":{"values":[10,20,30,40,50,60],"title":null}}},"layer":[
{"data":{"name":"pred"},"transform":[{"filter":"datum.m=='B'&&datum.c==40"}],"layer":[
{"mark":{"type":"area","color":"green","opacity":0.12,"interpolate":"linear","clip":true},"encoding":{"y":{"field":"lo","type":"quantitative","scale":{"domain":[0.466,0.922],"nice":false,"zero":false}},"y2":{"field":"hi"}}},
{"mark":{"type":"line","color":"green","opacity":0.3,"strokeWidth":1,"strokeDash":[4,2],"interpolate":"linear","clip":true},"encoding":{"y":{"field":"lo","type":"quantitative","scale":{"domain":[0.466,0.922],"nice":false,"zero":false}}}},
{"mark":{"type":"line","color":"green","opacity":0.3,"strokeWidth":1,"strokeDash":[4,2],"interpolate":"linear","clip":true},"encoding":{"y":{"field":"hi","type":"quantitative","scale":{"domain":[0.466,0.922],"nice":false,"zero":false}}}}]},
{"data":{"name":"curve"},"transform":[{"filter":"datum.x<=13"}],"mark":{"type":"line","color":"black","strokeWidth":1.2,"clip":true,"point":{"filled":true,"size":45,"color":"black"}},"encoding":{"y":{"field":"y","type":"quantitative","scale":{"domain":[0.466,0.922],"nice":false,"zero":false},"axis":{"values":[0.5,0.6,0.7,0.8,0.9],"tickCount":10,"format":".1f","labelOverlap":false,"labelExpr":"replace(datum.label,'0.','.')","title":"Test Error"}}}},
{"data":{"name":"curve"},"transform":[{"filter":"datum.x>13"}],"mark":{"type":"point","shape":"M0,-1L0.235,-0.324L0.951,-0.309L0.38,0.124L0.588,0.809L0,0.4L-0.588,0.809L-0.38,0.124L-0.951,-0.309L-0.235,-0.324Z","filled":true,"color":"#00ff00","opacity":1,"size":130,"clip":true},"encoding":{"y":{"field":"y","type":"quantitative","scale":{"domain":[0.466,0.922],"nice":false,"zero":false}}}},
{"data":{"name":"curve"},"transform":[{"filter":"datum.x==13"}],"mark":{"type":"rule","color":"black","strokeWidth":1,"strokeDash":[1.5,1.5]},"encoding":{}},
{"data":{"name":"pred"},"transform":[{"filter":"datum.m=='B'&&datum.c==40"}],"mark":{"type":"line","color":"green","strokeWidth":1.3,"interpolate":"linear","clip":true},"encoding":{"y":{"field":"y","type":"quantitative","scale":{"domain":[0.466,0.922],"nice":false,"zero":false}}}}
]},
{"width":282,"height":136,"encoding":{"x":{"field":"x","type":"quantitative","scale":{"domain":[1,67.2],"nice":false,"zero":false},"axis":{"values":[10,20,30,40,50,60],"title":null}}},"layer":[
{"data":{"name":"pred"},"transform":[{"filter":"datum.m=='B'&&datum.c==60"}],"layer":[
{"mark":{"type":"area","color":"green","opacity":0.12,"interpolate":"monotone","clip":true},"encoding":{"y":{"field":"lo","type":"quantitative","scale":{"domain":[0.466,0.922],"nice":false,"zero":false}},"y2":{"field":"hi"}}},
{"mark":{"type":"line","color":"green","opacity":0.3,"strokeWidth":1,"strokeDash":[4,2],"interpolate":"monotone","clip":true},"encoding":{"y":{"field":"lo","type":"quantitative","scale":{"domain":[0.466,0.922],"nice":false,"zero":false}}}},
{"mark":{"type":"line","color":"green","opacity":0.3,"strokeWidth":1,"strokeDash":[4,2],"interpolate":"monotone","clip":true},"encoding":{"y":{"field":"hi","type":"quantitative","scale":{"domain":[0.466,0.922],"nice":false,"zero":false}}}}]},
{"data":{"name":"curve"},"transform":[{"filter":"datum.x<=19"}],"mark":{"type":"line","color":"black","strokeWidth":1.2,"clip":true,"point":{"filled":true,"size":45,"color":"black"}},"encoding":{"y":{"field":"y","type":"quantitative","scale":{"domain":[0.466,0.922],"nice":false,"zero":false},"axis":{"values":[0.5,0.6,0.7,0.8,0.9],"tickCount":10,"format":".1f","labelOverlap":false,"labelExpr":"replace(datum.label,'0.','.')","title":null}}}},
{"data":{"name":"curve"},"transform":[{"filter":"datum.x>19"}],"mark":{"type":"point","shape":"M0,-1L0.235,-0.324L0.951,-0.309L0.38,0.124L0.588,0.809L0,0.4L-0.588,0.809L-0.38,0.124L-0.951,-0.309L-0.235,-0.324Z","filled":true,"color":"#00ff00","opacity":1,"size":130,"clip":true},"encoding":{"y":{"field":"y","type":"quantitative","scale":{"domain":[0.466,0.922],"nice":false,"zero":false}}}},
{"data":{"name":"curve"},"transform":[{"filter":"datum.x==19"}],"mark":{"type":"rule","color":"black","strokeWidth":1,"strokeDash":[1.5,1.5]},"encoding":{}},
{"data":{"name":"pred"},"transform":[{"filter":"datum.m=='B'&&datum.c==60"}],"mark":{"type":"line","color":"green","strokeWidth":1.3,"interpolate":"monotone","clip":true},"encoding":{"y":{"field":"y","type":"quantitative","scale":{"domain":[0.466,0.922],"nice":false,"zero":false}}}}
]},
{"width":282,"height":136,"encoding":{"x":{"field":"x","type":"quantitative","scale":{"domain":[1,67.2],"nice":false,"zero":false},"axis":{"values":[10,20,30,40,50,60],"title":null}}},"layer":[
{"data":{"name":"pred"},"transform":[{"filter":"datum.m=='B'&&datum.c==80"}],"layer":[
{"mark":{"type":"area","color":"green","opacity":0.12,"interpolate":"monotone","clip":true},"encoding":{"y":{"field":"lo","type":"quantitative","scale":{"domain":[0.466,0.922],"nice":false,"zero":false}},"y2":{"field":"hi"}}},
{"mark":{"type":"line","color":"green","opacity":0.3,"strokeWidth":1,"strokeDash":[4,2],"interpolate":"monotone","clip":true},"encoding":{"y":{"field":"lo","type":"quantitative","scale":{"domain":[0.466,0.922],"nice":false,"zero":false}}}},
{"mark":{"type":"line","color":"green","opacity":0.3,"strokeWidth":1,"strokeDash":[4,2],"interpolate":"monotone","clip":true},"encoding":{"y":{"field":"hi","type":"quantitative","scale":{"domain":[0.466,0.922],"nice":false,"zero":false}}}}]},
{"data":{"name":"curve"},"transform":[{"filter":"datum.x<=26"}],"mark":{"type":"line","color":"black","strokeWidth":1.2,"clip":true,"point":{"filled":true,"size":45,"color":"black"}},"encoding":{"y":{"field":"y","type":"quantitative","scale":{"domain":[0.466,0.922],"nice":false,"zero":false},"axis":{"values":[0.5,0.6,0.7,0.8,0.9],"tickCount":10,"format":".1f","labelOverlap":false,"labelExpr":"replace(datum.label,'0.','.')","title":null}}}},
{"data":{"name":"curve"},"transform":[{"filter":"datum.x>26"}],"mark":{"type":"point","shape":"M0,-1L0.235,-0.324L0.951,-0.309L0.38,0.124L0.588,0.809L0,0.4L-0.588,0.809L-0.38,0.124L-0.951,-0.309L-0.235,-0.324Z","filled":true,"color":"#00ff00","opacity":1,"size":130,"clip":true},"encoding":{"y":{"field":"y","type":"quantitative","scale":{"domain":[0.466,0.922],"nice":false,"zero":false}}}},
{"data":{"name":"curve"},"transform":[{"filter":"datum.x==26"}],"mark":{"type":"rule","color":"black","strokeWidth":1,"strokeDash":[1.5,1.5]},"encoding":{}},
{"data":{"name":"pred"},"transform":[{"filter":"datum.m=='B'&&datum.c==80"}],"mark":{"type":"line","color":"green","strokeWidth":1.3,"interpolate":"monotone","clip":true},"encoding":{"y":{"field":"y","type":"quantitative","scale":{"domain":[0.466,0.922],"nice":false,"zero":false}}}}
]},
{"width":282,"height":136,"encoding":{"x":{"field":"x","type":"quantitative","scale":{"domain":[1,67.2],"nice":false,"zero":false},"axis":{"values":[10,20,30,40,50,60],"title":null}}},"layer":[
{"data":{"name":"pred"},"transform":[{"filter":"datum.m=='B'&&datum.c==100"}],"layer":[
{"mark":{"type":"area","color":"green","opacity":0.12,"interpolate":"monotone","clip":true},"encoding":{"y":{"field":"lo","type":"quantitative","scale":{"domain":[0.466,0.922],"nice":false,"zero":false}},"y2":{"field":"hi"}}},
{"mark":{"type":"line","color":"green","opacity":0.3,"strokeWidth":1,"strokeDash":[4,2],"interpolate":"monotone","clip":true},"encoding":{"y":{"field":"lo","type":"quantitative","scale":{"domain":[0.466,0.922],"nice":false,"zero":false}}}},
{"mark":{"type":"line","color":"green","opacity":0.3,"strokeWidth":1,"strokeDash":[4,2],"interpolate":"monotone","clip":true},"encoding":{"y":{"field":"hi","type":"quantitative","scale":{"domain":[0.466,0.922],"nice":false,"zero":false}}}}]},
{"data":{"name":"curve"},"transform":[{"filter":"datum.x<=32"}],"mark":{"type":"line","color":"black","strokeWidth":1.2,"clip":true,"point":{"filled":true,"size":45,"color":"black"}},"encoding":{"y":{"field":"y","type":"quantitative","scale":{"domain":[0.466,0.922],"nice":false,"zero":false},"axis":{"values":[0.5,0.6,0.7,0.8,0.9],"tickCount":10,"format":".1f","labelOverlap":false,"labelExpr":"replace(datum.label,'0.','.')","title":null}}}},
{"data":{"name":"curve"},"transform":[{"filter":"datum.x>32"}],"mark":{"type":"point","shape":"M0,-1L0.235,-0.324L0.951,-0.309L0.38,0.124L0.588,0.809L0,0.4L-0.588,0.809L-0.38,0.124L-0.951,-0.309L-0.235,-0.324Z","filled":true,"color":"#00ff00","opacity":1,"size":130,"clip":true},"encoding":{"y":{"field":"y","type":"quantitative","scale":{"domain":[0.466,0.922],"nice":false,"zero":false}}}},
{"data":{"name":"curve"},"transform":[{"filter":"datum.x==32"}],"mark":{"type":"rule","color":"black","strokeWidth":1,"strokeDash":[1.5,1.5]},"encoding":{}},
{"data":{"name":"pred"},"transform":[{"filter":"datum.m=='B'&&datum.c==100"}],"mark":{"type":"line","color":"green","strokeWidth":1.3,"interpolate":"monotone","clip":true},"encoding":{"y":{"field":"y","type":"quantitative","scale":{"domain":[0.466,0.922],"nice":false,"zero":false}}}},
{"data":{"values":[]},"mark":{"type":"point","filled":true,"opacity":1},"encoding":{
"shape":{"field":"s","type":"nominal","scale":{"domain":["Context","Target","Cutoff","MCMC (BNSL)"],"range":["M-1,0L1,0M0.4,0A0.4,0.4,0,1,1,-0.4,0A0.4,0.4,0,1,1,0.4,0Z","M0,-0.5L0.118,-0.162L0.476,-0.155L0.19,0.062L0.294,0.405L0,0.2L-0.294,0.405L-0.19,0.062L-0.476,-0.155L-0.118,-0.162Z","M-1,0L-0.7,0M-0.45,0L-0.15,0M0.15,0L0.45,0M0.7,0L1,0","M-1,0L1,0"]},"legend":{"title":null,"orient":"top-right"}},
"fill":{"field":"s","type":"nominal","scale":{"domain":["Context","Target","Cutoff","MCMC (BNSL)"],"range":["black","#00ff00","black","green"]},"legend":{"title":null,"orient":"top-right"}},
"stroke":{"field":"s","type":"nominal","scale":{"domain":["Context","Target","Cutoff","MCMC (BNSL)"],"range":["black","#00ff00","black","green"]},"legend":{"title":null,"orient":"top-right"}}}}
]}
],"spacing":14.5,"resolve":{"scale":{"shape":"independent","fill":"independent","stroke":"independent"},"legend":{"shape":"independent","fill":"independent","stroke":"independent"}}},
{"hconcat":[
{"width":282,"height":136,"encoding":{"x":{"field":"x","type":"quantitative","scale":{"domain":[1,67.2],"nice":false,"zero":false},"axis":{"values":[10,20,30,40,50,60],"title":null}}},"layer":[
{"data":{"name":"pred"},"transform":[{"filter":"datum.m=='L'&&datum.c==40"}],"layer":[
{"mark":{"type":"area","color":"purple","opacity":0.12,"interpolate":"monotone","clip":true},"encoding":{"y":{"field":"lo","type":"quantitative","scale":{"domain":[0.466,0.922],"nice":false,"zero":false}},"y2":{"field":"hi"}}},
{"mark":{"type":"line","color":"purple","opacity":0.3,"strokeWidth":1,"strokeDash":[4,2],"interpolate":"monotone","clip":true},"encoding":{"y":{"field":"lo","type":"quantitative","scale":{"domain":[0.466,0.922],"nice":false,"zero":false}}}},
{"mark":{"type":"line","color":"purple","opacity":0.3,"strokeWidth":1,"strokeDash":[4,2],"interpolate":"monotone","clip":true},"encoding":{"y":{"field":"hi","type":"quantitative","scale":{"domain":[0.466,0.922],"nice":false,"zero":false}}}}]},
{"data":{"name":"curve"},"transform":[{"filter":"datum.x<=13"}],"mark":{"type":"line","color":"black","strokeWidth":1.2,"clip":true,"point":{"filled":true,"size":45,"color":"black"}},"encoding":{"y":{"field":"y","type":"quantitative","scale":{"domain":[0.466,0.922],"nice":false,"zero":false},"axis":{"values":[0.5,0.6,0.7,0.8,0.9],"tickCount":10,"format":".1f","labelOverlap":false,"labelExpr":"replace(datum.label,'0.','.')","title":"Test Error"}}}},
{"data":{"name":"curve"},"transform":[{"filter":"datum.x>13"}],"mark":{"type":"point","shape":"M0,-1L0.235,-0.324L0.951,-0.309L0.38,0.124L0.588,0.809L0,0.4L-0.588,0.809L-0.38,0.124L-0.951,-0.309L-0.235,-0.324Z","filled":true,"color":"#00ff00","opacity":1,"size":130,"clip":true},"encoding":{"y":{"field":"y","type":"quantitative","scale":{"domain":[0.466,0.922],"nice":false,"zero":false}}}},
{"data":{"name":"curve"},"transform":[{"filter":"datum.x==13"}],"mark":{"type":"rule","color":"black","strokeWidth":1,"strokeDash":[1.5,1.5]},"encoding":{}},
{"data":{"name":"pred"},"transform":[{"filter":"datum.m=='L'&&datum.c==40"}],"mark":{"type":"line","color":"purple","strokeWidth":1.3,"interpolate":"monotone","clip":true},"encoding":{"y":{"field":"y","type":"quantitative","scale":{"domain":[0.466,0.922],"nice":false,"zero":false}}}}
]},
{"width":282,"height":136,"encoding":{"x":{"field":"x","type":"quantitative","scale":{"domain":[1,67.2],"nice":false,"zero":false},"axis":{"values":[10,20,30,40,50,60],"title":null}}},"layer":[
{"data":{"name":"pred"},"transform":[{"filter":"datum.m=='L'&&datum.c==60"}],"layer":[
{"mark":{"type":"area","color":"purple","opacity":0.12,"interpolate":"monotone","clip":true},"encoding":{"y":{"field":"lo","type":"quantitative","scale":{"domain":[0.466,0.922],"nice":false,"zero":false}},"y2":{"field":"hi"}}},
{"mark":{"type":"line","color":"purple","opacity":0.3,"strokeWidth":1,"strokeDash":[4,2],"interpolate":"monotone","clip":true},"encoding":{"y":{"field":"lo","type":"quantitative","scale":{"domain":[0.466,0.922],"nice":false,"zero":false}}}},
{"mark":{"type":"line","color":"purple","opacity":0.3,"strokeWidth":1,"strokeDash":[4,2],"interpolate":"monotone","clip":true},"encoding":{"y":{"field":"hi","type":"quantitative","scale":{"domain":[0.466,0.922],"nice":false,"zero":false}}}}]},
{"data":{"name":"curve"},"transform":[{"filter":"datum.x<=19"}],"mark":{"type":"line","color":"black","strokeWidth":1.2,"clip":true,"point":{"filled":true,"size":45,"color":"black"}},"encoding":{"y":{"field":"y","type":"quantitative","scale":{"domain":[0.466,0.922],"nice":false,"zero":false},"axis":{"values":[0.5,0.6,0.7,0.8,0.9],"tickCount":10,"format":".1f","labelOverlap":false,"labelExpr":"replace(datum.label,'0.','.')","title":null}}}},
{"data":{"name":"curve"},"transform":[{"filter":"datum.x>19"}],"mark":{"type":"point","shape":"M0,-1L0.235,-0.324L0.951,-0.309L0.38,0.124L0.588,0.809L0,0.4L-0.588,0.809L-0.38,0.124L-0.951,-0.309L-0.235,-0.324Z","filled":true,"color":"#00ff00","opacity":1,"size":130,"clip":true},"encoding":{"y":{"field":"y","type":"quantitative","scale":{"domain":[0.466,0.922],"nice":false,"zero":false}}}},
{"data":{"name":"curve"},"transform":[{"filter":"datum.x==19"}],"mark":{"type":"rule","color":"black","strokeWidth":1,"strokeDash":[1.5,1.5]},"encoding":{}},
{"data":{"name":"pred"},"transform":[{"filter":"datum.m=='L'&&datum.c==60"}],"mark":{"type":"line","color":"purple","strokeWidth":1.3,"interpolate":"monotone","clip":true},"encoding":{"y":{"field":"y","type":"quantitative","scale":{"domain":[0.466,0.922],"nice":false,"zero":false}}}}
]},
{"width":282,"height":136,"encoding":{"x":{"field":"x","type":"quantitative","scale":{"domain":[1,67.2],"nice":false,"zero":false},"axis":{"values":[10,20,30,40,50,60],"title":null}}},"layer":[
{"data":{"name":"pred"},"transform":[{"filter":"datum.m=='L'&&datum.c==80"}],"layer":[
{"mark":{"type":"area","color":"purple","opacity":0.12,"interpolate":"monotone","clip":true},"encoding":{"y":{"field":"lo","type":"quantitative","scale":{"domain":[0.466,0.922],"nice":false,"zero":false}},"y2":{"field":"hi"}}},
{"mark":{"type":"line","color":"purple","opacity":0.3,"strokeWidth":1,"strokeDash":[4,2],"interpolate":"monotone","clip":true},"encoding":{"y":{"field":"lo","type":"quantitative","scale":{"domain":[0.466,0.922],"nice":false,"zero":false}}}},
{"mark":{"type":"line","color":"purple","opacity":0.3,"strokeWidth":1,"strokeDash":[4,2],"interpolate":"monotone","clip":true},"encoding":{"y":{"field":"hi","type":"quantitative","scale":{"domain":[0.466,0.922],"nice":false,"zero":false}}}}]},
{"data":{"name":"curve"},"transform":[{"filter":"datum.x<=26"}],"mark":{"type":"line","color":"black","strokeWidth":1.2,"clip":true,"point":{"filled":true,"size":45,"color":"black"}},"encoding":{"y":{"field":"y","type":"quantitative","scale":{"domain":[0.466,0.922],"nice":false,"zero":false},"axis":{"values":[0.5,0.6,0.7,0.8,0.9],"tickCount":10,"format":".1f","labelOverlap":false,"labelExpr":"replace(datum.label,'0.','.')","title":null}}}},
{"data":{"name":"curve"},"transform":[{"filter":"datum.x>26"}],"mark":{"type":"point","shape":"M0,-1L0.235,-0.324L0.951,-0.309L0.38,0.124L0.588,0.809L0,0.4L-0.588,0.809L-0.38,0.124L-0.951,-0.309L-0.235,-0.324Z","filled":true,"color":"#00ff00","opacity":1,"size":130,"clip":true},"encoding":{"y":{"field":"y","type":"quantitative","scale":{"domain":[0.466,0.922],"nice":false,"zero":false}}}},
{"data":{"name":"curve"},"transform":[{"filter":"datum.x==26"}],"mark":{"type":"rule","color":"black","strokeWidth":1,"strokeDash":[1.5,1.5]},"encoding":{}},
{"data":{"name":"pred"},"transform":[{"filter":"datum.m=='L'&&datum.c==80"}],"mark":{"type":"line","color":"purple","strokeWidth":1.3,"interpolate":"monotone","clip":true},"encoding":{"y":{"field":"y","type":"quantitative","scale":{"domain":[0.466,0.922],"nice":false,"zero":false}}}}
]},
{"width":282,"height":136,"encoding":{"x":{"field":"x","type":"quantitative","scale":{"domain":[1,67.2],"nice":false,"zero":false},"axis":{"values":[10,20,30,40,50,60],"title":null}}},"layer":[
{"data":{"name":"pred"},"transform":[{"filter":"datum.m=='L'&&datum.c==100"}],"layer":[
{"mark":{"type":"area","color":"purple","opacity":0.12,"interpolate":"monotone","clip":true},"encoding":{"y":{"field":"lo","type":"quantitative","scale":{"domain":[0.466,0.922],"nice":false,"zero":false}},"y2":{"field":"hi"}}},
{"mark":{"type":"line","color":"purple","opacity":0.3,"strokeWidth":1,"strokeDash":[4,2],"interpolate":"monotone","clip":true},"encoding":{"y":{"field":"lo","type":"quantitative","scale":{"domain":[0.466,0.922],"nice":false,"zero":false}}}},
{"mark":{"type":"line","color":"purple","opacity":0.3,"strokeWidth":1,"strokeDash":[4,2],"interpolate":"monotone","clip":true},"encoding":{"y":{"field":"hi","type":"quantitative","scale":{"domain":[0.466,0.922],"nice":false,"zero":false}}}}]},
{"data":{"name":"curve"},"transform":[{"filter":"datum.x<=32"}],"mark":{"type":"line","color":"black","strokeWidth":1.2,"clip":true,"point":{"filled":true,"size":45,"color":"black"}},"encoding":{"y":{"field":"y","type":"quantitative","scale":{"domain":[0.466,0.922],"nice":false,"zero":false},"axis":{"values":[0.5,0.6,0.7,0.8,0.9],"tickCount":10,"format":".1f","labelOverlap":false,"labelExpr":"replace(datum.label,'0.','.')","title":null}}}},
{"data":{"name":"curve"},"transform":[{"filter":"datum.x>32"}],"mark":{"type":"point","shape":"M0,-1L0.235,-0.324L0.951,-0.309L0.38,0.124L0.588,0.809L0,0.4L-0.588,0.809L-0.38,0.124L-0.951,-0.309L-0.235,-0.324Z","filled":true,"color":"#00ff00","opacity":1,"size":130,"clip":true},"encoding":{"y":{"field":"y","type":"quantitative","scale":{"domain":[0.466,0.922],"nice":false,"zero":false}}}},
{"data":{"name":"curve"},"transform":[{"filter":"datum.x==32"}],"mark":{"type":"rule","color":"black","strokeWidth":1,"strokeDash":[1.5,1.5]},"encoding":{}},
{"data":{"name":"pred"},"transform":[{"filter":"datum.m=='L'&&datum.c==100"}],"mark":{"type":"line","color":"purple","strokeWidth":1.3,"interpolate":"monotone","clip":true},"encoding":{"y":{"field":"y","type":"quantitative","scale":{"domain":[0.466,0.922],"nice":false,"zero":false}}}},
{"data":{"values":[]},"mark":{"type":"point","filled":true,"opacity":1},"encoding":{
"shape":{"field":"s","type":"nominal","scale":{"domain":["Context","Target","Cutoff","LC-PFN"],"range":["M-1,0L1,0M0.4,0A0.4,0.4,0,1,1,-0.4,0A0.4,0.4,0,1,1,0.4,0Z","M0,-0.5L0.118,-0.162L0.476,-0.155L0.19,0.062L0.294,0.405L0,0.2L-0.294,0.405L-0.19,0.062L-0.476,-0.155L-0.118,-0.162Z","M-1,0L-0.7,0M-0.45,0L-0.15,0M0.15,0L0.45,0M0.7,0L1,0","M-1,0L1,0"]},"legend":{"title":null,"orient":"top-right"}},
"fill":{"field":"s","type":"nominal","scale":{"domain":["Context","Target","Cutoff","LC-PFN"],"range":["black","#00ff00","black","purple"]},"legend":{"title":null,"orient":"top-right"}},
"stroke":{"field":"s","type":"nominal","scale":{"domain":["Context","Target","Cutoff","LC-PFN"],"range":["black","#00ff00","black","purple"]},"legend":{"title":null,"orient":"top-right"}}}}
]}
],"spacing":14.5,"resolve":{"scale":{"shape":"independent","fill":"independent","stroke":"independent"},"legend":{"shape":"independent","fill":"independent","stroke":"independent"}}},
{"hconcat":[
{"width":282,"height":136,"encoding":{"x":{"field":"x","type":"quantitative","scale":{"domain":[1,67.2],"nice":false,"zero":false},"axis":{"values":[10,20,30,40,50,60],"title":"Model Width"}}},"layer":[
{"data":{"name":"pred"},"transform":[{"filter":"datum.m=='N'&&datum.c==40"}],"layer":[
{"mark":{"type":"area","color":"blue","opacity":0.1,"interpolate":"monotone","clip":true},"encoding":{"y":{"field":"lo","type":"quantitative","scale":{"domain":[0.466,0.922],"nice":false,"zero":false}},"y2":{"field":"hi"}}},
{"mark":{"type":"line","color":"blue","opacity":0.25,"strokeWidth":1,"strokeDash":[4,2],"interpolate":"monotone","clip":true},"encoding":{"y":{"field":"lo","type":"quantitative","scale":{"domain":[0.466,0.922],"nice":false,"zero":false}}}},
{"mark":{"type":"line","color":"blue","opacity":0.25,"strokeWidth":1,"strokeDash":[4,2],"interpolate":"monotone","clip":true},"encoding":{"y":{"field":"hi","type":"quantitative","scale":{"domain":[0.466,0.922],"nice":false,"zero":false}}}}]},
{"data":{"name":"curve"},"transform":[{"filter":"datum.x<=13"}],"mark":{"type":"line","color":"black","strokeWidth":1.2,"clip":true,"point":{"filled":true,"size":45,"color":"black"}},"encoding":{"y":{"field":"y","type":"quantitative","scale":{"domain":[0.466,0.922],"nice":false,"zero":false},"axis":{"values":[0.5,0.6,0.7,0.8,0.9],"tickCount":10,"format":".1f","labelOverlap":false,"labelExpr":"replace(datum.label,'0.','.')","title":"Test Error"}}}},
{"data":{"name":"curve"},"transform":[{"filter":"datum.x>13"}],"mark":{"type":"point","shape":"M0,-1L0.235,-0.324L0.951,-0.309L0.38,0.124L0.588,0.809L0,0.4L-0.588,0.809L-0.38,0.124L-0.951,-0.309L-0.235,-0.324Z","filled":true,"color":"#00ff00","opacity":1,"size":130,"clip":true},"encoding":{"y":{"field":"y","type":"quantitative","scale":{"domain":[0.466,0.922],"nice":false,"zero":false}}}},
{"data":{"name":"curve"},"transform":[{"filter":"datum.x==13"}],"mark":{"type":"rule","color":"black","strokeWidth":1,"strokeDash":[1.5,1.5]},"encoding":{}},
{"data":{"name":"pred"},"transform":[{"filter":"datum.m=='N'&&datum.c==40"}],"mark":{"type":"line","color":"blue","strokeWidth":1.3,"interpolate":"monotone","clip":true},"encoding":{"y":{"field":"y","type":"quantitative","scale":{"domain":[0.466,0.922],"nice":false,"zero":false}}}}
]},
{"width":282,"height":136,"encoding":{"x":{"field":"x","type":"quantitative","scale":{"domain":[1,67.2],"nice":false,"zero":false},"axis":{"values":[10,20,30,40,50,60],"title":"Model Width"}}},"layer":[
{"data":{"name":"pred"},"transform":[{"filter":"datum.m=='N'&&datum.c==60"}],"layer":[
{"mark":{"type":"area","color":"blue","opacity":0.1,"interpolate":"monotone","clip":true},"encoding":{"y":{"field":"lo","type":"quantitative","scale":{"domain":[0.466,0.922],"nice":false,"zero":false}},"y2":{"field":"hi"}}},
{"mark":{"type":"line","color":"blue","opacity":0.25,"strokeWidth":1,"strokeDash":[4,2],"interpolate":"monotone","clip":true},"encoding":{"y":{"field":"lo","type":"quantitative","scale":{"domain":[0.466,0.922],"nice":false,"zero":false}}}},
{"mark":{"type":"line","color":"blue","opacity":0.25,"strokeWidth":1,"strokeDash":[4,2],"interpolate":"monotone","clip":true},"encoding":{"y":{"field":"hi","type":"quantitative","scale":{"domain":[0.466,0.922],"nice":false,"zero":false}}}}]},
{"data":{"name":"curve"},"transform":[{"filter":"datum.x<=19"}],"mark":{"type":"line","color":"black","strokeWidth":1.2,"clip":true,"point":{"filled":true,"size":45,"color":"black"}},"encoding":{"y":{"field":"y","type":"quantitative","scale":{"domain":[0.466,0.922],"nice":false,"zero":false},"axis":{"values":[0.5,0.6,0.7,0.8,0.9],"tickCount":10,"format":".1f","labelOverlap":false,"labelExpr":"replace(datum.label,'0.','.')","title":null}}}},
{"data":{"name":"curve"},"transform":[{"filter":"datum.x>19"}],"mark":{"type":"point","shape":"M0,-1L0.235,-0.324L0.951,-0.309L0.38,0.124L0.588,0.809L0,0.4L-0.588,0.809L-0.38,0.124L-0.951,-0.309L-0.235,-0.324Z","filled":true,"color":"#00ff00","opacity":1,"size":130,"clip":true},"encoding":{"y":{"field":"y","type":"quantitative","scale":{"domain":[0.466,0.922],"nice":false,"zero":false}}}},
{"data":{"name":"curve"},"transform":[{"filter":"datum.x==19"}],"mark":{"type":"rule","color":"black","strokeWidth":1,"strokeDash":[1.5,1.5]},"encoding":{}},
{"data":{"name":"pred"},"transform":[{"filter":"datum.m=='N'&&datum.c==60"}],"mark":{"type":"line","color":"blue","strokeWidth":1.3,"interpolate":"monotone","clip":true},"encoding":{"y":{"field":"y","type":"quantitative","scale":{"domain":[0.466,0.922],"nice":false,"zero":false}}}}
]},
{"width":282,"height":136,"encoding":{"x":{"field":"x","type":"quantitative","scale":{"domain":[1,67.2],"nice":false,"zero":false},"axis":{"values":[10,20,30,40,50,60],"title":"Model Width"}}},"layer":[
{"data":{"name":"pred"},"transform":[{"filter":"datum.m=='N'&&datum.c==80"}],"layer":[
{"mark":{"type":"area","color":"blue","opacity":0.1,"interpolate":"monotone","clip":true},"encoding":{"y":{"field":"lo","type":"quantitative","scale":{"domain":[0.466,0.922],"nice":false,"zero":false}},"y2":{"field":"hi"}}},
{"mark":{"type":"line","color":"blue","opacity":0.25,"strokeWidth":1,"strokeDash":[4,2],"interpolate":"monotone","clip":true},"encoding":{"y":{"field":"lo","type":"quantitative","scale":{"domain":[0.466,0.922],"nice":false,"zero":false}}}},
{"mark":{"type":"line","color":"blue","opacity":0.25,"strokeWidth":1,"strokeDash":[4,2],"interpolate":"monotone","clip":true},"encoding":{"y":{"field":"hi","type":"quantitative","scale":{"domain":[0.466,0.922],"nice":false,"zero":false}}}}]},
{"data":{"name":"curve"},"transform":[{"filter":"datum.x<=26"}],"mark":{"type":"line","color":"black","strokeWidth":1.2,"clip":true,"point":{"filled":true,"size":45,"color":"black"}},"encoding":{"y":{"field":"y","type":"quantitative","scale":{"domain":[0.466,0.922],"nice":false,"zero":false},"axis":{"values":[0.5,0.6,0.7,0.8,0.9],"tickCount":10,"format":".1f","labelOverlap":false,"labelExpr":"replace(datum.label,'0.','.')","title":null}}}},
{"data":{"name":"curve"},"transform":[{"filter":"datum.x>26"}],"mark":{"type":"point","shape":"M0,-1L0.235,-0.324L0.951,-0.309L0.38,0.124L0.588,0.809L0,0.4L-0.588,0.809L-0.38,0.124L-0.951,-0.309L-0.235,-0.324Z","filled":true,"color":"#00ff00","opacity":1,"size":130,"clip":true},"encoding":{"y":{"field":"y","type":"quantitative","scale":{"domain":[0.466,0.922],"nice":false,"zero":false}}}},
{"data":{"name":"curve"},"transform":[{"filter":"datum.x==26"}],"mark":{"type":"rule","color":"black","strokeWidth":1,"strokeDash":[1.5,1.5]},"encoding":{}},
{"data":{"name":"pred"},"transform":[{"filter":"datum.m=='N'&&datum.c==80"}],"mark":{"type":"line","color":"blue","strokeWidth":1.3,"interpolate":"monotone","clip":true},"encoding":{"y":{"field":"y","type":"quantitative","scale":{"domain":[0.466,0.922],"nice":false,"zero":false}}}}
]},
{"width":282,"height":136,"encoding":{"x":{"field":"x","type":"quantitative","scale":{"domain":[1,67.2],"nice":false,"zero":false},"axis":{"values":[10,20,30,40,50,60],"title":"Model Width"}}},"layer":[
{"data":{"name":"pred"},"transform":[{"filter":"datum.m=='N'&&datum.c==100"}],"layer":[
{"mark":{"type":"area","color":"blue","opacity":0.1,"interpolate":"monotone","clip":true},"encoding":{"y":{"field":"lo","type":"quantitative","scale":{"domain":[0.466,0.922],"nice":false,"zero":false}},"y2":{"field":"hi"}}},
{"mark":{"type":"line","color":"blue","opacity":0.25,"strokeWidth":1,"strokeDash":[4,2],"interpolate":"monotone","clip":true},"encoding":{"y":{"field":"lo","type":"quantitative","scale":{"domain":[0.466,0.922],"nice":false,"zero":false}}}},
{"mark":{"type":"line","color":"blue","opacity":0.25,"strokeWidth":1,"strokeDash":[4,2],"interpolate":"monotone","clip":true},"encoding":{"y":{"field":"hi","type":"quantitative","scale":{"domain":[0.466,0.922],"nice":false,"zero":false}}}}]},
{"data":{"name":"curve"},"transform":[{"filter":"datum.x<=32"}],"mark":{"type":"line","color":"black","strokeWidth":1.2,"clip":true,"point":{"filled":true,"size":45,"color":"black"}},"encoding":{"y":{"field":"y","type":"quantitative","scale":{"domain":[0.466,0.922],"nice":false,"zero":false},"axis":{"values":[0.5,0.6,0.7,0.8,0.9],"tickCount":10,"format":".1f","labelOverlap":false,"labelExpr":"replace(datum.label,'0.','.')","title":null}}}},
{"data":{"name":"curve"},"transform":[{"filter":"datum.x>32"}],"mark":{"type":"point","shape":"M0,-1L0.235,-0.324L0.951,-0.309L0.38,0.124L0.588,0.809L0,0.4L-0.588,0.809L-0.38,0.124L-0.951,-0.309L-0.235,-0.324Z","filled":true,"color":"#00ff00","opacity":1,"size":130,"clip":true},"encoding":{"y":{"field":"y","type":"quantitative","scale":{"domain":[0.466,0.922],"nice":false,"zero":false}}}},
{"data":{"name":"curve"},"transform":[{"filter":"datum.x==32"}],"mark":{"type":"rule","color":"black","strokeWidth":1,"strokeDash":[1.5,1.5]},"encoding":{}},
{"data":{"name":"pred"},"transform":[{"filter":"datum.m=='N'&&datum.c==100"}],"mark":{"type":"line","color":"blue","strokeWidth":1.3,"interpolate":"monotone","clip":true},"encoding":{"y":{"field":"y","type":"quantitative","scale":{"domain":[0.466,0.922],"nice":false,"zero":false}}}},
{"data":{"values":[]},"mark":{"type":"point","filled":true,"opacity":1},"encoding":{
"shape":{"field":"s","type":"nominal","scale":{"domain":["Context","Target","Cutoff","NSL-PFN"],"range":["M-1,0L1,0M0.4,0A0.4,0.4,0,1,1,-0.4,0A0.4,0.4,0,1,1,0.4,0Z","M0,-0.5L0.118,-0.162L0.476,-0.155L0.19,0.062L0.294,0.405L0,0.2L-0.294,0.405L-0.19,0.062L-0.476,-0.155L-0.118,-0.162Z","M-1,0L-0.7,0M-0.45,0L-0.15,0M0.15,0L0.45,0M0.7,0L1,0","M-1,0L1,0"]},"legend":{"title":null,"orient":"top-right"}},
"fill":{"field":"s","type":"nominal","scale":{"domain":["Context","Target","Cutoff","NSL-PFN"],"range":["black","#00ff00","black","blue"]},"legend":{"title":null,"orient":"top-right"}},
"stroke":{"field":"s","type":"nominal","scale":{"domain":["Context","Target","Cutoff","NSL-PFN"],"range":["black","#00ff00","black","blue"]},"legend":{"title":null,"orient":"top-right"}}}}
]}
],"spacing":14.5,"resolve":{"scale":{"shape":"independent","fill":"independent","stroke":"independent"},"legend":{"shape":"independent","fill":"independent","stroke":"independent"}}}
]
}
